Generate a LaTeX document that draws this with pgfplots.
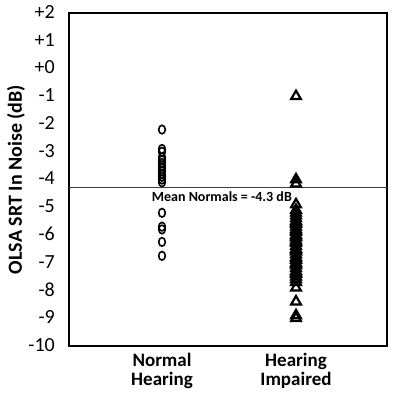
\documentclass[border=0pt]{standalone}
\usepackage{fontspec}
\setmainfont{Carlito}
\usepackage{pgfplots}
\pgfplotsset{compat=1.18}
\usetikzlibrary{calc,decorations.pathmorphing}

% SRT values (dB) per listener
\pgfplotstableread[row sep=\\]{
x y\\
1 -2.2\\ 1 -2.9\\ 1 -3.0\\ 1 -3.2\\ 1 -3.3\\ 1 -3.4\\ 1 -3.5\\ 1 -3.6\\ 1 -3.7\\
1 -3.8\\ 1 -3.9\\ 1 -4.0\\ 1 -4.1\\ 1 -5.2\\ 1 -5.7\\ 1 -5.8\\ 1 -6.25\\ 1 -6.75\\
}\normals

\pgfplotstableread[row sep=\\]{
x y\\
2 -1.0\\ 2 -4.0\\ 2 -4.15\\ 2 -4.9\\ 2 -5.1\\ 2 -5.2\\ 2 -5.3\\ 2 -5.4\\ 2 -5.5\\
2 -5.55\\ 2 -5.6\\ 2 -5.7\\ 2 -5.8\\ 2 -5.85\\ 2 -5.9\\ 2 -6.0\\ 2 -6.05\\ 2 -6.1\\
2 -6.2\\ 2 -6.25\\ 2 -6.3\\ 2 -6.4\\ 2 -6.5\\ 2 -6.55\\ 2 -6.6\\ 2 -6.7\\ 2 -6.8\\
2 -6.85\\ 2 -6.9\\ 2 -7.0\\ 2 -7.05\\ 2 -7.1\\ 2 -7.2\\ 2 -7.3\\ 2 -7.35\\ 2 -7.4\\
2 -7.5\\ 2 -7.6\\ 2 -7.7\\ 2 -7.9\\ 2 -8.4\\ 2 -8.9\\ 2 -9.0\\
}\impaired

\begin{document}
\begin{tikzpicture}
\begin{axis}[
  name=ax,
  scale only axis,
  width=318bp, height=333bp,
  xmin=0.306, xmax=2.679,
  ymin=-10, ymax=2,
  axis line style={line width=1.6bp},
  ytick={-10,...,2},
  yticklabels={-10,-9,-8,-7,-6,-5,-4,-3,-2,-1,+0,+1,+2},
  xtick={1,2},
  xticklabels={Normal\\Hearing, Hearing\\Impaired},
  major tick length=0pt,
  tick style={draw=none},
  yticklabel style={font=\fontsize{20bp}{20bp}\selectfont, inner sep=0pt, xshift=-14bp, yshift=1bp},
  xticklabel style={font=\bfseries\fontsize{19bp}{19bp}\selectfont, align=center, inner sep=0pt, yshift=-7bp},
  ylabel={OLSA SRT In Noise (dB)},
  ylabel style={font=\bfseries\fontsize{20bp}{20bp}\selectfont,
    at={(axis description cs:-0.1667,0.5)}, anchor=center},
  clip=false,
]
% mean of the normal-hearing group
\addplot[no marks, line width=0.9bp, color=black!75] coordinates {(0.306,-4.3) (2.679,-4.3)};

\addplot[only marks, mark=o, mark size=3.3bp,
  mark options={yscale=1.3, line width=1.6bp}] table {\normals};
\addplot[only marks, mark=triangle, mark size=5.6bp,
  mark options={line width=2.2bp}] table {\impaired};

\node[anchor=base west, inner sep=0pt, font=\bfseries\fontsize{14bp}{14bp}\selectfont]
  (ml) at (axis cs:0.923,-4.80) {Mean Normals = -4.3 dB};
\draw[red!85!black, line width=0.6bp, decorate,
  decoration={snake, amplitude=0.6bp, segment length=2.5bp}]
  ($(ml.base west)!0.254!(ml.base east)+(0,-2.5bp)$) --
  ($(ml.base west)!0.606!(ml.base east)+(0,-2.5bp)$);
\end{axis}
\pgfresetboundingbox
\path[use as bounding box] ($(ax.south west)+(-69bp,-48bp)$) rectangle ($(ax.north east)+(13bp,13bp)$);
\end{tikzpicture}
\end{document}
